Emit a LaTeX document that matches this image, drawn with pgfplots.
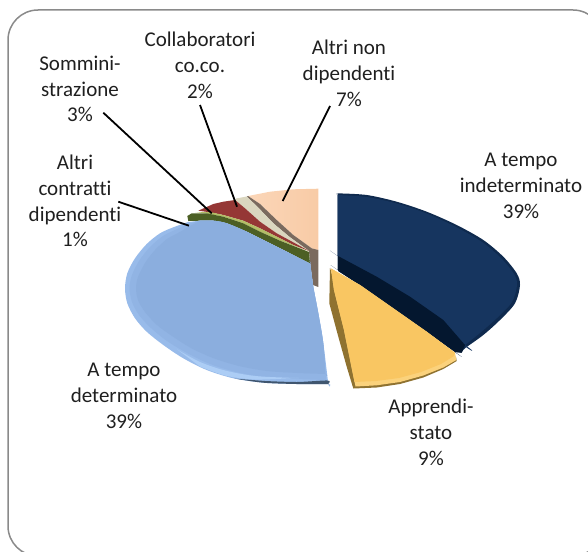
\documentclass[border=0pt]{standalone}
\usepackage{pgfplots}
\pgfplotsset{compat=1.18}
\usepackage{fontspec}
\setmainfont[Ligatures=NoCommon]{Carlito}
\definecolor{frame}{HTML}{8A8A8A}
\definecolor{peachA}{HTML}{FBD6B8}
\definecolor{peachB}{HTML}{F8CBA6}
\definecolor{stripbrown}{HTML}{7A6A5E}
\definecolor{beige}{HTML}{DAD6BF}
\definecolor{redd}{HTML}{953735}
\definecolor{oliveD}{HTML}{4C5F24}
\definecolor{sliver}{HTML}{B3BE66}
\definecolor{blueA}{HTML}{98BBEA}
\definecolor{blueB}{HTML}{91B4E4}
\definecolor{blueC}{HTML}{8BAEDE}
\definecolor{blueBright}{HTML}{ACCDF5}
\definecolor{blueDark}{HTML}{40566F}
\definecolor{navyA}{HTML}{0F2A4E}
\definecolor{navyB}{HTML}{16355F}
\definecolor{navyDark}{HTML}{04172F}
\definecolor{yellowA}{HTML}{FBD27C}
\definecolor{yellowB}{HTML}{F9C662}
\definecolor{ybrown}{HTML}{8F7230}
\newcommand{\lab}[3]{\node[align=center,inner sep=0pt,font=\fontsize{21}{25.8}\selectfont,text=black!88] at (axis cs:#1,#2) {#3};}
\pgfplotsset{pie/.style={draw=none,smooth,tension=0.5}}
\begin{document}
\begin{tikzpicture}
\path[use as bounding box] (0,0) rectangle (588pt,551pt);
\begin{axis}[
  scale only axis, width=588pt, height=551pt,
  xmin=0, xmax=588, ymin=0, ymax=551, y dir=reverse,
  axis lines=none, clip=true]
% frame
\addplot[draw=frame, line width=1.5pt, rounded corners=30pt] coordinates {(8,10)(603,10)(603,556)(8,556)} --cycle;
% Altri non dipendenti (peach)
\addplot[draw=none, left color=peachA, right color=peachB] coordinates {(248,196)(270,191.7)(293.3,189.3)(318.3,188.7)(318.3,250)(311.7,248.3)(293.3,235)(276.7,220)(260,204)} --cycle;
\addplot[fill=stripbrown, draw=none] coordinates {(248,196)(260,204)(276.7,220)(293.3,235)(311.7,248.3)(318.3,250)(318.3,287)(313,285)(310,262)(309,251)(290,237.3)(273.3,223.3)(256.7,206)(246.7,196.7)} --cycle;
% Collaboratori (beige)
\addplot[fill=beige, draw=none] coordinates {(236,198.5)(246.7,196.5)(256.7,206)(273.3,223.3)(290,237.3)(309,251)(293.3,242.3)(276.7,233.3)(260,221.7)(245,208.3)(235,200.7)} --cycle;
% Somministrazione (red)
\addplot[fill=redd, draw=none] coordinates {(198.3,210.7)(213.3,204)(223.3,201.7)(235,200)(245,208.3)(260,221.7)(276.7,233.3)(293.3,242.3)(309,251)(293.3,245)(276.7,236.7)(260,228.3)(243.3,220.7)(223.3,215)(210,212.3)} --cycle;
% Altri contratti dipendenti (olive)
\addplot[fill=sliver, draw=none] coordinates {(195,212)(210,212)(223.3,215)(243.3,220.7)(260,228.3)(276.7,236.7)(293.3,245)(309,251.5)(280,240.7)(260,231.7)(243.3,223.3)(223.3,216.7)(206.7,213.5)} --cycle;
\addplot[fill=oliveD, draw=none] coordinates {(191.7,213.3)(206.7,213.3)(223.3,216.7)(243.3,223.3)(260,231.7)(280,240.7)(309,252)(310,263)(308.3,262.7)(286.7,251.7)(266.7,241.7)(246.7,231.7)(226.7,223.3)(213.3,220.7)(200,220.7)(188.3,221)(187.3,216)} --cycle;
% A tempo determinato (blue)
\addplot[fill=blueA, pie] coordinates {(188,222)(188,222)(173.3,227.3)(160,233.3)(146.7,244)(135,258.3)(127.3,273.3)(125,288.3)(127.3,303.3)(135,318.3)(146.7,331.7)(163.3,345)(183.3,358.3)(206.7,370)(233.3,378.3)(263.3,382.7)(296.7,384)(328.3,384)(328.3,384)(323.3,343.3)(318.3,313.3)(313.3,286.7)(310,262)(310,262)(308.3,262.7)(286.7,251.7)(266.7,241.7)(246.7,231.7)(226.7,223.3)(213.3,220.7)(200,220.7)} --cycle;
\addplot[fill=blueB, pie] coordinates {(188,224)(188,224)(175,230)(163,236)(150,247)(139,261)(132,275)(129.5,288)(132,302)(139,315)(151,328)(167,341)(187,353)(210,364)(236,372)(265,377)(297,379)(326,380)(326,380)(323.3,343.3)(318.3,313.3)(313.3,286.7)(310,262)(310,262)(308.3,262.7)(286.7,251.7)(266.7,241.7)(246.7,231.7)(226.7,223.3)(213.3,220.7)(200,220.7)} --cycle;
\addplot[fill=blueC, pie] coordinates {(190,226)(190,226)(178,233)(167,239)(155,250)(145,263)(138,277)(136,288)(138,300)(145,312)(157,325)(172,336)(191,348)(213,358)(239,366)(267,371)(298,373)(325.5,374)(325.5,374)(323.3,343.3)(318.3,313.3)(313.3,286.7)(310,262)(310,262)(308.3,262.7)(286.7,251.7)(266.7,241.7)(246.7,231.7)(226.7,223.3)(213.3,220.7)(200,220.7)} --cycle;
\addplot[fill=blueBright, pie] coordinates {(178,350)(178,350)(200,362)(225,370.5)(255,376)(295,378)(295,378)(255,379.5)(225,375.5)(200,366.5)} --cycle;
\addplot[fill=blueDark, pie] coordinates {(236,378.8)(236,378.8)(263.3,382.7)(296.7,384)(328.3,384)(328.3,384)(327.7,380.5)(297,382)(265,381)} --cycle;
% A tempo indeterminato (navy)
\addplot[fill=navyA, pie] coordinates {(337.7,193.3)(337.7,193.3)(366.7,195)(396.7,201.7)(426.7,211.7)(456.7,225)(483.3,240)(503.3,256.7)(516.7,273.3)(520,285)(515,303.3)(500,320)(483.3,335)(465,348.3)(461.7,352.7)(461.7,352.7)(455,352)(455,352)(337.7,270)(337.7,270)} --cycle;
\addplot[fill=navyB, pie] coordinates {(337.7,195)(337.7,195)(366.7,197)(396.7,203.5)(426.7,213.5)(456,227)(482,242)(501,258)(514,274)(517,285)(512,302)(497,318)(480,333)(465,345)(465,345)(337.7,256)(337.7,256)} --cycle;
\addplot[fill=navyDark, draw=none] coordinates {(338,256)(376.7,276.7)(410,296.7)(443.3,320)(465,345)(461.7,352.7)(455,352)(427,332)(393,308)(360,285)(338,271)} --cycle;
% Apprendistato (yellow)
\addplot[fill=ybrown, draw=none] coordinates {(330,267.7)(329.3,303.3)(338.3,336.7)(346.7,366.7)(353.3,388.5)(376.7,387.5)(400,384)(423.3,377.5)(443.3,369)(456.7,361)(456,357)(340,300)} --cycle;
\addplot[fill=yellowA, draw=none] coordinates {(331,268.5)(360,285)(393.3,308.3)(426.7,331.7)(455,352.7)(456.3,360)(443.3,367.5)(423.3,375.5)(400,382)(376.7,385.3)(355.5,386.5)(344,330)(334,290)} --cycle;
\addplot[fill=yellowB, draw=none] coordinates {(331,268.5)(360,285)(393.3,308.3)(426.7,331.7)(455,352.7)(454,356)(441,364)(421,372)(399,378)(376,381)(354.5,382)(344,330)(334,290)} --cycle;
% leader lines
\addplot[black, line width=1.8pt] coordinates {(200,105)(237,206.7)};
\addplot[black, line width=1.8pt] coordinates {(103.3,112.7)(211.7,213.3)};
\addplot[black, line width=1.8pt] coordinates {(118.3,201.7)(189,225.7)};
\addplot[black, line width=1.8pt] coordinates {(330,106)(282.7,201)};
% labels
\lab{200}{65}{Collaboratori\\co.co.\\2\%}
\lab{80}{89}{Sommini-\\strazione\\3\%}
\lab{75}{201}{Altri\\contratti\\dipendenti\\1\%}
\lab{349}{73}{Altri non\\dipendenti\\7\%}
\lab{521}{186}{A tempo\\indeterminato\\39\%}
\lab{431}{432}{Apprendi-\\stato\\9\%}
\lab{124}{396}{A tempo\\determinato\\39\%}
\end{axis}
\end{tikzpicture}
\end{document}
